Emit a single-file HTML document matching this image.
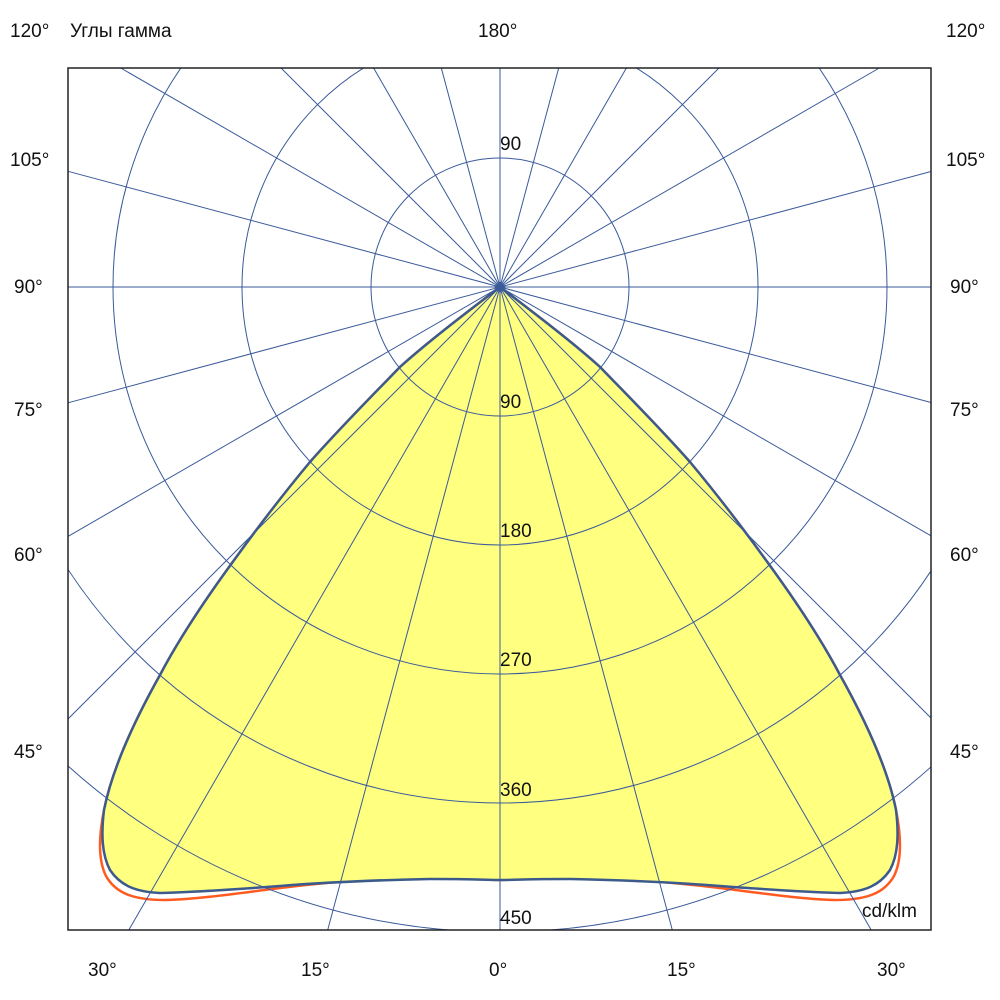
<!DOCTYPE html>
<html><head><meta charset="utf-8"><style>
html,body{margin:0;padding:0;background:#fff;overflow:hidden;width:1000px;height:1000px;}
svg{display:block;font-family:"Liberation Sans","Noto Sans CJK SC",sans-serif;}
</style></head><body>
<svg width="1000" height="1000" viewBox="0 0 1000 1000" xmlns="http://www.w3.org/2000/svg">
<defs><clipPath id="c"><rect x="68" y="68" width="863" height="862"/></clipPath></defs>
<rect width="1000" height="1000" fill="#fff"/>
<path d="M500,287 C470,310 430,340 400,367 C370,398 340,428 310,462 C285,492 258,527 232,563 C205,600 180,637 160,675 C132,725 112,770 104,810 C99,835 98,860 106,876 C116,894 135,900 165,900 C200,899 240,893 280,888 C330,882 380,878 430,876 C470,878 490,880 500,880 C510,880 530,878 570,876 C620,878 670,882 720,888 C760,893 800,899 835,900 C865,900 884,894 894,876 C902,860 901,835 896,810 C888,770 868,725 840,675 C820,637 795,600 768,563 C742,527 715,492 690,462 C660,428 630,398 600,367 C570,340 530,310 500,287Z" fill="none" stroke="#ff5a20" stroke-width="2.5"/>
<path d="M500,287 C470,310 430,340 400,367 C370,398 340,428 310,462 C285,492 258,527 232,563 C205,600 180,637 160,675 C132,725 112,770 104,810 C101,835 102,855 110,870 C120,885 135,892 160,893 C200,892 240,889 280,886 C330,882 380,880 430,879 C470,879 490,880 500,880 C510,880 530,879 570,879 C620,880 670,882 720,886 C760,889 800,892 840,893 C865,892 880,885 890,870 C898,855 899,835 896,810 C888,770 868,725 840,675 C820,637 795,600 768,563 C742,527 715,492 690,462 C660,428 630,398 600,367 C570,340 530,310 500,287Z" fill="#ffff80" stroke="#3c5a8c" stroke-width="2.5"/>
<g clip-path="url(#c)" fill="none" stroke="#3a5a9a" stroke-width="1">
<circle cx="500" cy="287" r="129"/><circle cx="500" cy="287" r="258"/><circle cx="500" cy="287" r="387"/><circle cx="500" cy="287" r="516"/><circle cx="500" cy="287" r="645"/>
</g>
<g fill="none" stroke="#3a5a9a" stroke-width="1">
<line x1="500" y1="68" x2="500" y2="930"/>
<line x1="441.3" y1="68" x2="672.3" y2="930"/>
<line x1="373.6" y1="68" x2="871.2" y2="930"/>
<line x1="281" y1="68" x2="931" y2="718"/>
<line x1="120.7" y1="68" x2="931" y2="535.8"/>
<line x1="68" y1="171.3" x2="931" y2="402.5"/>
<line x1="68" y1="287" x2="931" y2="287"/>
<line x1="68" y1="402.8" x2="931" y2="171.5"/>
<line x1="68" y1="536.4" x2="879.3" y2="68"/>
<line x1="68" y1="719" x2="719" y2="68"/>
<line x1="128.8" y1="930" x2="626.4" y2="68"/>
<line x1="327.7" y1="930" x2="558.7" y2="68"/>
</g>
<path d="M500,281 L506,287 L500,293 L494,287Z" fill="#3a5a9a"/>
<rect x="68" y="68" width="863" height="862" fill="none" stroke="#222" stroke-width="1.5"/>
<g font-size="19" fill="#111">
<text x="500" y="150">90</text><text x="500" y="408">90</text><text x="500" y="537">180</text><text x="500" y="666">270</text><text x="500" y="796">360</text><text x="500" y="924">450</text>
<text x="862" y="917">cd/klm</text>
<text x="10" y="37">120°</text><text x="70" y="37">Углы гамма</text><text x="478" y="37">180°</text><text x="946" y="37">120°</text>
<text x="10" y="166">105°</text><text x="946" y="166">105°</text>
<text x="14" y="293">90°</text><text x="950" y="293">90°</text>
<text x="14" y="416">75°</text><text x="950" y="416">75°</text>
<text x="14" y="561">60°</text><text x="950" y="561">60°</text>
<text x="14" y="758">45°</text><text x="950" y="758">45°</text>
<text x="88" y="976">30°</text><text x="301" y="976">15°</text><text x="489" y="976">0°</text><text x="667" y="976">15°</text><text x="877" y="976">30°</text>
</g>
</svg>
</body></html>
